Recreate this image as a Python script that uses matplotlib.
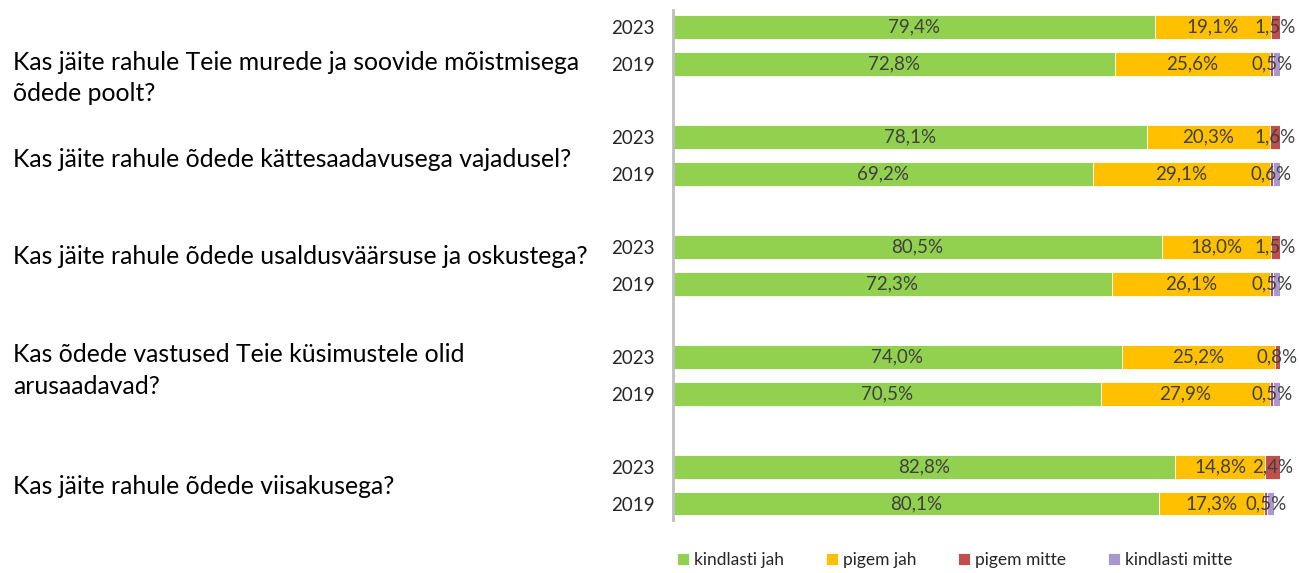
import numpy as np
import matplotlib.pyplot as plt

# questions and survey years
questions = [
    "Kas jäite rahule Teie murede ja soovide mõistmisega\nõdede poolt?",
    "Kas jäite rahule õdede kättesaadavusega vajadusel?",
    "Kas jäite rahule õdede usaldusväärsuse ja oskustega?",
    "Kas õdede vastused Teie küsimustele olid\narusaadavad?",
    "Kas jäite rahule õdede viisakusega?",
]
years = ["2023", "2019"]
categories = ["kindlasti jah", "pigem jah", "pigem mitte", "kindlasti mitte"]

# values per question: [2023, 2019]
kindlasti_jah = [[79.4, 72.8], [78.1, 69.2], [80.5, 72.3], [74.0, 70.5], [82.8, 80.1]]
pigem_jah = [[19.1, 25.6], [20.3, 29.1], [18.0, 26.1], [25.2, 27.9], [14.8, 17.3]]
pigem_mitte = [[1.5, 0.5], [1.6, 0.6], [1.5, 0.5], [0.8, 0.5], [2.4, 0.5]]
kindlasti_mitte = [[0.0, 1.1], [0.0, 1.1], [0.0, 1.1], [0.0, 1.1], [0.0, 1.1]]

colors = ["#92D050", "#FFC000", "#C0504D", "#A898CC"]
text_offset = [1.39, 0.62, 0.27, 0.37, 0.53]

plt.rcParams['font.family'] = ['Lato', 'DejaVu Sans']

fig = plt.figure(figsize=(12.99, 5.73), dpi=100)
ax = fig.add_axes([0.518, 0.0925, 0.4673, 0.890])

series = [kindlasti_jah, pigem_jah, pigem_mitte, kindlasti_mitte]
ypos = []
ylabels = []
for i in range(len(questions)):
    for j, yr in enumerate(years):
        ypos.append(3 * i + j)
        ylabels.append(yr)
ypos = np.array(ypos)

left = np.zeros(len(ypos))
for k, s in enumerate(series):
    vals = np.array(s).flatten()
    ax.barh(ypos, vals, left=left, height=0.65, color=colors[k],
            label=categories[k], edgecolor='white', linewidth=0.6)
    if k < 3:
        for y, l, v in zip(ypos, left, vals):
            ax.text(l + v / 2, y, f"{v:.1f}%".replace('.', ','),
                    ha='center', va='center', fontsize=13.5, color='#404040')
    left += vals

ax.set_xlim(0, 100)
ax.set_ylim(13.45, -0.47)
ax.set_xticks([])
ax.set_yticks(ypos)
ax.set_yticklabels(ylabels, fontsize=13.5, color='#262626')
ax.tick_params(axis='y', length=0, pad=13)
for sp in ['top', 'right', 'bottom']:
    ax.spines[sp].set_visible(False)
ax.spines['left'].set_color('#BFBFBF')
ax.spines['left'].set_linewidth(2)

trans = plt.matplotlib.transforms.blended_transform_factory(fig.transFigure, ax.transData)
for i, q in enumerate(questions):
    ax.text(0.01, 3 * i + text_offset[i], q, transform=trans, ha='left', va='center',
            fontsize=17.8, color='black', linespacing=1.45)

fig.legend(loc='center', bbox_to_anchor=(0.735, 0.022), ncol=4, frameon=False,
           fontsize=12.5, handlelength=0.7, handleheight=0.7, columnspacing=2.4,
           handletextpad=0.3, labelcolor='#262626')

fig.savefig("out.png", dpi=100)
